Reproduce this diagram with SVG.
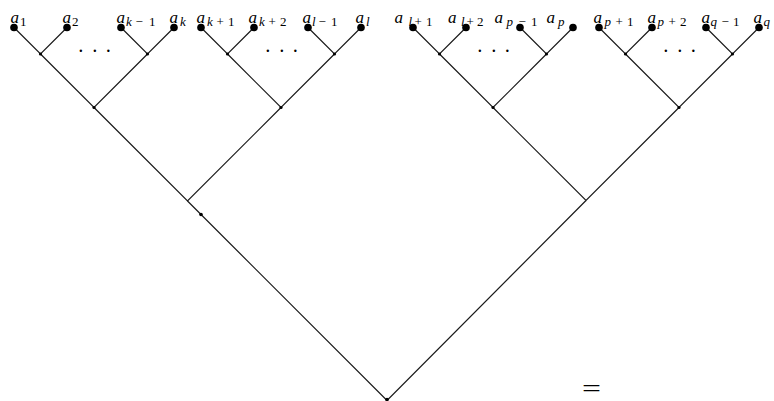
<svg xmlns="http://www.w3.org/2000/svg" width="774" height="401" viewBox="0 0 774 401">
<style>
.e{stroke:#1a1a1a;stroke-width:1.2;fill:none}
.leaf{fill:#000}
.in{fill:#000}
text{font-family:"Liberation Serif","Times New Roman",serif;fill:#000}
.a{font-size:17px;font-style:italic}
.v{font-size:13px;font-style:italic}
.n{font-size:13px;font-style:normal}
.dots{font-size:20px}
.eq{font-size:23px}
</style>
<rect width="774" height="401" fill="#fff"/>
<g id="connectors">
<path class="e" d="M14,27.5L40.5,54L67,27.5M121,27.5L147.5,54L174,27.5M40.5,54L94,107.5L147.5,54"/>
<path class="e" d="M201,27.5L227.5,54L254,27.5M308,27.5L334.5,54L361,27.5M227.5,54L281,107.5L334.5,54"/>
<path class="e" d="M413,27.5L439.5,54L466,27.5M520,27.5L546.5,54L573,27.5M439.5,54L493,107.5L546.5,54"/>
<path class="e" d="M599,27.5L625.5,54L652,27.5M706,27.5L732.5,54L759,27.5M625.5,54L679,107.5L732.5,54"/>
<path class="e" d="M94,107.5L187.5,201L281,107.5M493,107.5L586,200.5L679,107.5"/>
<path class="e" d="M187.5,201L387,400.5L586,200.5"/>
</g>
<g id="leaf-a1"><circle class="leaf" cx="14" cy="27.5" r="3.8"/><text y="23"><tspan class="a" x="10.5">a</tspan><tspan class="n" x="20" y="26">1</tspan></text></g>
<g id="leaf-a2"><circle class="leaf" cx="67" cy="27.5" r="3.8"/><text y="23"><tspan class="a" x="62.5">a</tspan><tspan class="n" x="72" y="26">2</tspan></text></g>
<g id="leaf-ak-1"><circle class="leaf" cx="121" cy="27.5" r="3.8"/><text y="23"><tspan class="a" x="116.5">a</tspan><tspan class="v" x="126" y="26">k</tspan><tspan class="n" x="135.5" y="26">−</tspan><tspan class="n" x="149" y="26">1</tspan></text></g>
<g id="leaf-ak"><circle class="leaf" cx="174" cy="27.5" r="3.8"/><text y="23"><tspan class="a" x="169.5">a</tspan><tspan class="v" x="180" y="26">k</tspan></text></g>
<g id="leaf-ak+1"><circle class="leaf" cx="201" cy="27.5" r="3.8"/><text y="23"><tspan class="a" x="196.5">a</tspan><tspan class="v" x="207" y="26">k</tspan><tspan class="n" x="216.5" y="26">+</tspan><tspan class="n" x="228" y="26">1</tspan></text></g>
<g id="leaf-ak+2"><circle class="leaf" cx="254" cy="27.5" r="3.8"/><text y="23"><tspan class="a" x="248.5">a</tspan><tspan class="v" x="259" y="26">k</tspan><tspan class="n" x="268.5" y="26">+</tspan><tspan class="n" x="280" y="26">2</tspan></text></g>
<g id="leaf-al-1"><circle class="leaf" cx="308" cy="27.5" r="3.8"/><text y="23"><tspan class="a" x="302.5">a</tspan><tspan class="v" x="312" y="26">l</tspan><tspan class="n" x="318.5" y="26">−</tspan><tspan class="n" x="331" y="26">1</tspan></text></g>
<g id="leaf-al"><circle class="leaf" cx="361" cy="27.5" r="3.8"/><text y="23"><tspan class="a" x="355.5">a</tspan><tspan class="v" x="366" y="26">l</tspan></text></g>
<g id="leaf-al+1"><circle class="leaf" cx="413" cy="27.5" r="3.8"/><text y="23"><tspan class="a" x="394.5">a</tspan><tspan class="v" x="408.5" y="26">l</tspan><tspan class="n" x="414.5" y="26">+</tspan><tspan class="n" x="426" y="26">1</tspan></text></g>
<g id="leaf-al+2"><circle class="leaf" cx="466" cy="27.5" r="3.8"/><text y="23"><tspan class="a" x="448">a</tspan><tspan class="v" x="461" y="26">l</tspan><tspan class="n" x="466.5" y="26">+</tspan><tspan class="n" x="477" y="26">2</tspan></text></g>
<g id="leaf-ap-1"><circle class="leaf" cx="520" cy="27.5" r="3.8"/><text y="23"><tspan class="a" x="494.5">a</tspan><tspan class="v" x="506.5" y="26">p</tspan><tspan class="n" x="518.5" y="26">−</tspan><tspan class="n" x="531" y="26">1</tspan></text></g>
<g id="leaf-ap"><circle class="leaf" cx="573" cy="27.5" r="3.8"/><text y="23"><tspan class="a" x="546.5">a</tspan><tspan class="v" x="558" y="26">p</tspan></text></g>
<g id="leaf-ap+1"><circle class="leaf" cx="599" cy="27.5" r="3.8"/><text y="23"><tspan class="a" x="593.5">a</tspan><tspan class="v" x="604.5" y="26">p</tspan><tspan class="n" x="615.5" y="26">+</tspan><tspan class="n" x="627" y="26">1</tspan></text></g>
<g id="leaf-ap+2"><circle class="leaf" cx="652" cy="27.5" r="3.8"/><text y="23"><tspan class="a" x="647.5">a</tspan><tspan class="v" x="657.5" y="26">p</tspan><tspan class="n" x="668.5" y="26">+</tspan><tspan class="n" x="680" y="26">2</tspan></text></g>
<g id="leaf-aq-1"><circle class="leaf" cx="706" cy="27.5" r="3.8"/><text y="23"><tspan class="a" x="701.5">a</tspan><tspan class="v" x="710.5" y="26">q</tspan><tspan class="n" x="721.5" y="26">−</tspan><tspan class="n" x="733" y="26">1</tspan></text></g>
<g id="leaf-aq"><circle class="leaf" cx="759" cy="27.5" r="3.8"/><text y="23"><tspan class="a" x="753.5">a</tspan><tspan class="v" x="763.5" y="26">q</tspan></text></g>
<g id="n-A1"><circle class="in" cx="40.5" cy="54" r="1.6"/></g>
<g id="n-A2"><circle class="in" cx="147.5" cy="54" r="1.6"/></g>
<g id="n-A"><circle class="in" cx="94" cy="107.5" r="1.6"/></g>
<g id="n-B1"><circle class="in" cx="227.5" cy="54" r="1.6"/></g>
<g id="n-B2"><circle class="in" cx="334.5" cy="54" r="1.6"/></g>
<g id="n-B"><circle class="in" cx="281" cy="107.5" r="1.6"/></g>
<g id="n-C1"><circle class="in" cx="439.5" cy="54" r="1.6"/></g>
<g id="n-C2"><circle class="in" cx="546.5" cy="54" r="1.6"/></g>
<g id="n-C"><circle class="in" cx="493" cy="107.5" r="1.6"/></g>
<g id="n-D1"><circle class="in" cx="625.5" cy="54" r="1.6"/></g>
<g id="n-D2"><circle class="in" cx="732.5" cy="54" r="1.6"/></g>
<g id="n-D"><circle class="in" cx="679" cy="107.5" r="1.6"/></g>
<g id="n-left"><circle class="in" cx="201" cy="214.5" r="1.8"/></g>
<g id="n-root"><circle class="in" cx="387" cy="399.5" r="1.8"/></g>
<g id="ellipses">
<text class="dots" x="77.5 91.5 105" y="58">···</text>
<text class="dots" x="264.5 278.5 292" y="58">···</text>
<text class="dots" x="476.5 490.5 504" y="58">···</text>
<text class="dots" x="662.5 676.5 690" y="58">···</text>
</g>
<text class="eq" x="582" y="395.5" textLength="19" lengthAdjust="spacingAndGlyphs">=</text>
</svg>
